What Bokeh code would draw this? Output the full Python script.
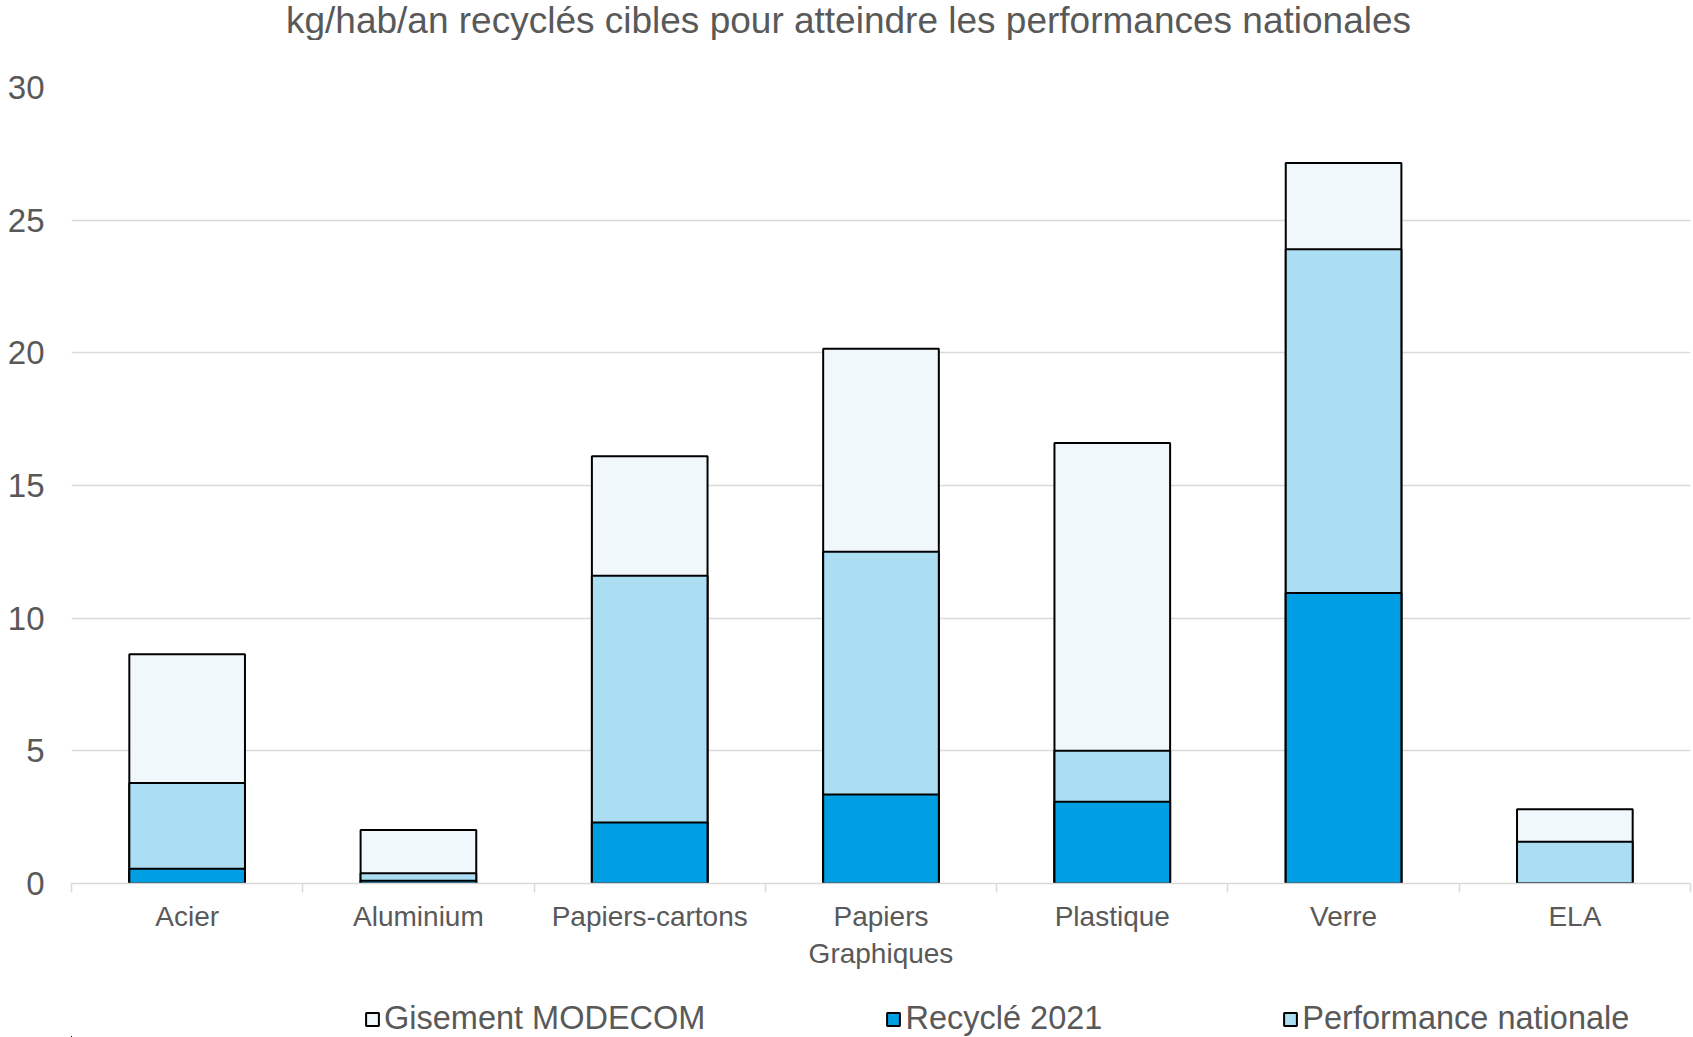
import numpy as np
from bokeh.plotting import figure
from bokeh.layouts import column
from bokeh.models import Range1d, FixedTicker, Legend, LegendItem, Label
from bokeh.embed import file_html
from bokeh.resources import INLINE

categories = ["Acier", "Aluminium", "Papiers-cartons", "Papiers\nGraphiques", "Plastique", "Verre", "ELA"]
gisement_modecom = [8.64, 2.02, 16.1, 20.15, 16.6, 27.15, 2.8]
performance_nationale = [3.79, 0.39, 11.6, 12.5, 5.0, 23.9, 1.57]
recycle_2021 = [0.56, 0.1, 2.3, 3.35, 3.08, 10.95, 0.0]
y_ticks = [0, 5, 10, 15, 20, 25, 30]
title_text = "kg/hab/an recyclés cibles pour atteindre les performances nationales"
series_names = ["Gisement MODECOM", "Recyclé 2021", "Performance nationale"]
series_values = [gisement_modecom, recycle_2021, performance_nationale]
series_colors = ["#F1F8FC", "#009FE3", "#ABDEF3"]

FONT = "Liberation Sans"
GREY = "#595959"

n = len(categories)
x = np.arange(n) + 0.5

# ---- title strip
pt = figure(width=1693, height=40, x_range=Range1d(0, 1), y_range=Range1d(0, 1),
            output_backend="svg", toolbar_location=None,
            x_axis_location=None, y_axis_location=None,
            min_border_left=0, min_border_right=0, min_border_top=0, min_border_bottom=0)
pt.title.visible = False
pt.outline_line_color = None
pt.grid.visible = False
pt.add_layout(Label(x=777, y=20, x_units="screen", y_units="screen", text=title_text,
                    text_font=FONT, text_font_size="37px", text_color=GREY,
                    text_align="center", text_baseline="middle"))

# ---- main chart
p = figure(width=1693, height=943, x_range=Range1d(0, n), y_range=Range1d(0, 30),
           output_backend="svg", toolbar_location=None,
           min_border_left=71, min_border_right=3, min_border_top=47, min_border_bottom=100)
p.title.visible = False
p.outline_line_color = None
p.xgrid.grid_line_color = None
p.ygrid.grid_line_color = "#d9d9d9"
p.ygrid.grid_line_width = 1.5
p.ygrid.ticker = FixedTicker(ticks=y_ticks)

r_gis = p.vbar(x=x, top=gisement_modecom, bottom=0, width=0.5,
               fill_color=series_colors[0], line_color="black", line_width=2)
r_perf = p.vbar(x=x, top=performance_nationale, bottom=0, width=0.5,
                fill_color=series_colors[2], line_color="black", line_width=2)
r_rec = p.vbar(x=x, top=recycle_2021, bottom=0, width=0.5,
               fill_color=series_colors[1], line_color="black", line_width=2)

p.yaxis.ticker = FixedTicker(ticks=y_ticks)
p.yaxis.axis_line_color = None
p.yaxis.major_tick_line_color = None
p.yaxis.minor_tick_line_color = None
p.yaxis.major_label_text_font = FONT
p.yaxis.major_label_text_font_size = "33px"
p.yaxis.major_label_text_color = GREY
p.yaxis.major_label_standoff = 21

p.xaxis.ticker = FixedTicker(ticks=list(x), minor_ticks=list(range(n + 1)))
p.xaxis.major_label_overrides = {float(xx): c for xx, c in zip(x, categories)}
p.xaxis.axis_line_color = "#d9d9d9"
p.xaxis.axis_line_width = 1.5
p.xaxis.major_tick_line_color = None
p.xaxis.major_tick_out = 0
p.xaxis.major_tick_in = 0
p.xaxis.minor_tick_line_color = "#d9d9d9"
p.xaxis.minor_tick_line_width = 1.5
p.xaxis.minor_tick_out = 9
p.xaxis.minor_tick_in = 0
p.xaxis.major_label_text_font = FONT
p.xaxis.major_label_text_font_size = "28px"
p.xaxis.major_label_text_color = GREY
p.xaxis.major_label_standoff = 8

# ---- legend strip (swatch renderers reuse the series but lie outside the strip's visible ranges)
pl = figure(width=1693, height=54, x_range=Range1d(n, n + 1), y_range=Range1d(30, 31),
            output_backend="svg", toolbar_location=None,
            x_axis_location=None, y_axis_location=None,
            min_border_left=0, min_border_right=0, min_border_top=0, min_border_bottom=0)
pl.title.visible = False
pl.outline_line_color = None
pl.grid.visible = False
leg_renderers = [pl.vbar(x=x, top=vals, bottom=0, width=0.5, fill_color=c,
                         line_color="black", line_width=2)
                 for vals, c in zip(series_values, series_colors)]
legend = Legend(items=[LegendItem(label=nm, renderers=[r]) for nm, r in zip(series_names, leg_renderers)],
                location=(293, 0), orientation="horizontal", spacing=180,
                padding=0, margin=0, border_line_color=None, background_fill_alpha=0,
                label_text_font=FONT, label_text_font_size="32.5px", label_text_color=GREY,
                glyph_width=16, glyph_height=16, label_standoff=4)
pl.add_layout(legend)

layout = column(pt, p, pl, spacing=0)
open("out.html", "w").write(file_html(layout, INLINE))
